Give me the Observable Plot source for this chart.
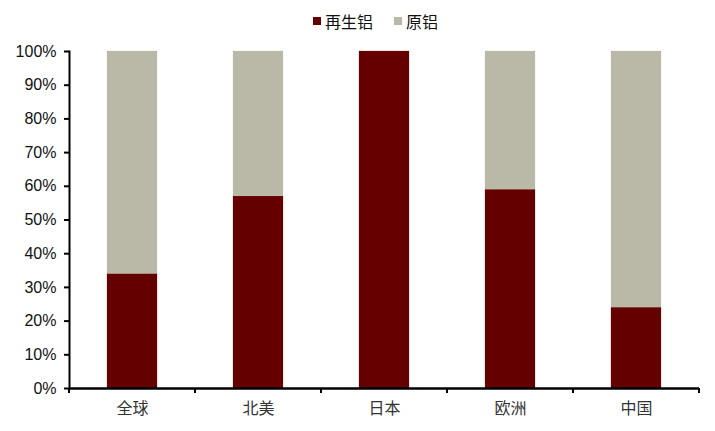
<!DOCTYPE html>
<html><head><meta charset="utf-8">
<script src="https://cdn.jsdelivr.net/npm/d3@7"></script>
<script src="https://cdn.jsdelivr.net/npm/@observablehq/plot@0.6"></script>
<style>
body{margin:0;background:#fff;font-family:"Liberation Sans",Arial,"Noto Sans CJK SC",sans-serif;}
#legend{height:40px;position:relative;font-size:16px;color:#111;font-family:"Noto Sans CJK SC",sans-serif;}
.item{position:absolute;top:10px;display:flex;align-items:center;line-height:22px;}
.sw{width:8px;height:8px;margin-right:4px;}
</style></head>
<body>
<div id="legend"></div>
<div id="chart"></div>
<script>
const categories = ["全球", "北美", "日本", "欧洲", "中国"];
const recycled = [0.34, 0.57, 1.00, 0.59, 0.24];
const primary = [0.66, 0.43, 0.00, 0.41, 0.76];
const seriesNames = ["再生铝", "原铝"];
const colors = ["#640000", "#bab9a8"];
const yTicks = [0, 0.1, 0.2, 0.3, 0.4, 0.5, 0.6, 0.7, 0.8, 0.9, 1.0];

const data = [];
categories.forEach((c, i) => {
  data.push({cat: c, series: seriesNames[0], value: recycled[i]});
  data.push({cat: c, series: seriesNames[1], value: primary[i]});
});

const leg = document.getElementById("legend");
const legX = [313, 394];
seriesNames.forEach((s, i) => {
  const d = document.createElement("div");
  d.className = "item";
  d.style.left = legX[i] + "px";
  d.innerHTML = `<span class="sw" style="background:${colors[i]}"></span><span>${s}</span>`;
  leg.appendChild(d);
});

const chart = Plot.plot({
  width: 715,
  height: 391,
  marginTop: 11,
  marginBottom: 43,
  marginLeft: 69,
  marginRight: 16,
  style: {fontFamily: '"Liberation Sans", Arial, sans-serif', fontSize: "16px", color: "#111"},
  x: {domain: categories, paddingInner: 0.6, paddingOuter: 0.3, label: null},
  y: {domain: [0, 1], label: null},
  color: {domain: seriesNames, range: colors},
  marks: [
    Plot.barY(data, Plot.stackY({x: "cat", y: "value", fill: "series", order: seriesNames, stroke: "series", strokeWidth: 0.6, strokeOpacity: 0.35})),
    Plot.axisY({ticks: yTicks, tickFormat: d => Math.round(d * 100) + "%", tickSize: 5, tickPadding: 8, fontSize: 16, label: null, stroke: "#000", strokeWidth: 2}),
    Plot.axisX({tickSize: 0, tickPadding: 14, fontSize: 16, label: null, fontFamily: '"Noto Sans CJK SC", sans-serif', fill: "#333"}),
    Plot.ruleY([0], {
      render: (index, scales, values, dims) => {
        const g = d3.create("svg:g");
        const n = categories.length;
        const w = (dims.width - dims.marginLeft - dims.marginRight) / n;
        const yb = dims.height - dims.marginBottom;
        for (let k = 0; k <= n; k++) {
          const px = dims.marginLeft + k * w;
          g.append("line").attr("x1", px).attr("x2", px)
            .attr("y1", yb).attr("y2", yb + 5)
            .attr("stroke", "#000").attr("stroke-width", 2);
        }
        return g.node();
      }
    }),
    Plot.frame({anchor: "left", stroke: "#000", strokeWidth: 2}),
    Plot.ruleY([0], {stroke: "#000", strokeWidth: 2.5})
  ]
});
document.getElementById("chart").appendChild(chart);
</script>
</body></html>
